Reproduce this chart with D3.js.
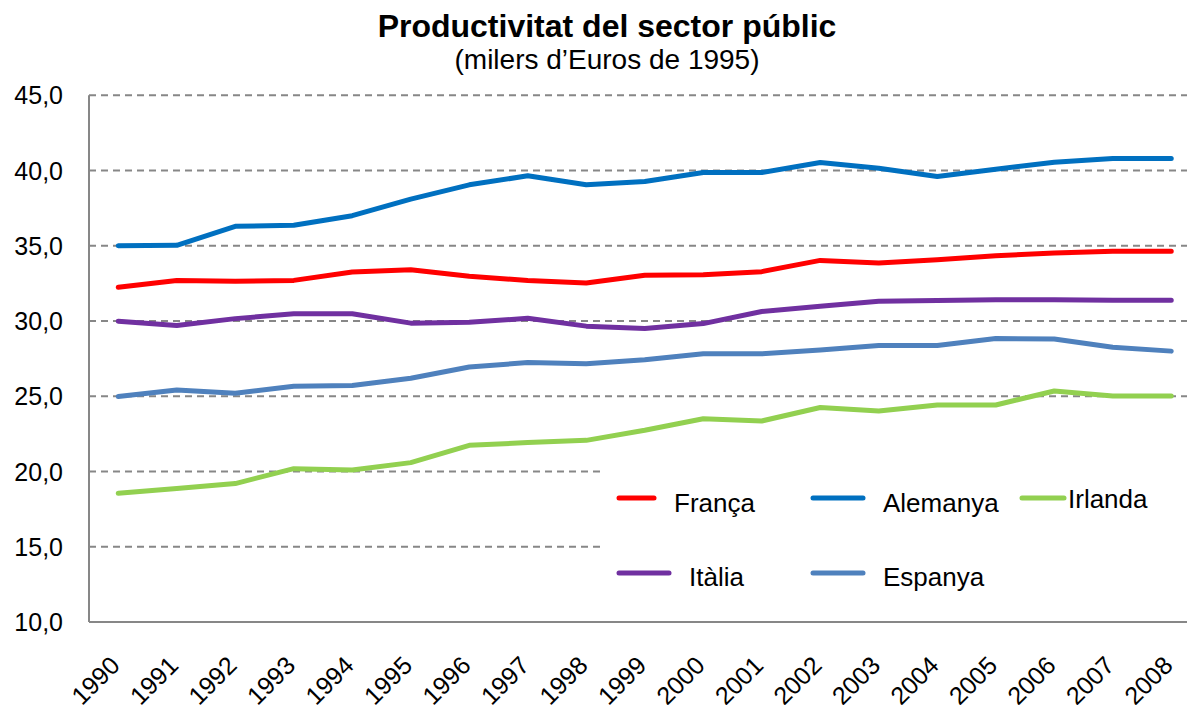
<!DOCTYPE html>
<html>
<head>
<meta charset="utf-8">
<script src="https://cdn.jsdelivr.net/npm/d3@7"></script>
<style>
  html, body { margin: 0; padding: 0; background: #fff; }
  svg { display: block; font-family: "Liberation Sans", Arial, sans-serif; }
</style>
</head>
<body>
<svg id="chart" width="1187" height="705"></svg>
<script>
const years = ["1990","1991","1992","1993","1994","1995","1996","1997","1998","1999","2000","2001","2002","2003","2004","2005","2006","2007","2008"];
const franca   = [32.24,32.70,32.64,32.70,33.26,33.41,32.97,32.70,32.53,33.04,33.08,33.28,34.03,33.85,34.07,34.34,34.52,34.63,34.63];
const alemanya = [35.00,35.03,36.29,36.37,37.00,38.10,39.05,39.65,39.05,39.27,39.87,39.87,40.53,40.15,39.60,40.09,40.55,40.80,40.80];
const irlanda  = [18.56,18.87,19.20,20.19,20.10,20.59,21.74,21.92,22.07,22.74,23.51,23.36,24.25,24.02,24.42,24.42,25.35,25.02,25.02];
const italia   = [29.99,29.70,30.16,30.48,30.48,29.86,29.92,30.18,29.66,29.50,29.83,30.63,30.98,31.31,31.36,31.42,31.42,31.38,31.38];
const espanya  = [24.99,25.42,25.20,25.66,25.72,26.20,26.94,27.24,27.16,27.42,27.82,27.82,28.08,28.37,28.37,28.84,28.80,28.26,28.00];
const yTicks   = [10,15,20,25,30,35,40,45];
const seriesNames  = ["França","Alemanya","Irlanda","Itàlia","Espanya"];
const seriesValues = [franca, alemanya, irlanda, italia, espanya];
const seriesColors = ["#FF0000","#0070C0","#92D050","#7030A0","#4F81BD"];
const titleText = "Productivitat del sector públic";
const subtitleText = "(milers d\u2019Euros de 1995)";

(function () {
const W = 1187, H = 705;
const plotLeft = 89, plotBottom = 622, plotTop = 95.3;
const step = 58.5;
const svg = d3.select("#chart");

const x = d3.scaleBand().domain(years).range([plotLeft, plotLeft + step * years.length]);
const xc = d => x(d) + x.bandwidth() / 2;
const y = d3.scaleLinear().domain([10, 45]).range([plotBottom, plotTop]);

// gridlines
svg.append("g").selectAll("line").data(yTicks.filter(t => t > 10)).join("line")
  .attr("x1", plotLeft).attr("x2", W)
  .attr("y1", d => y(d)).attr("y2", d => y(d))
  .attr("stroke", "#878787").attr("stroke-width", 2)
  .attr("stroke-dasharray", "7,5");

// axes lines
svg.append("line").attr("x1", plotLeft).attr("x2", plotLeft).attr("y1", y(45)).attr("y2", plotBottom)
  .attr("stroke", "#878787").attr("stroke-width", 2);
svg.append("line").attr("x1", plotLeft).attr("x2", W).attr("y1", plotBottom).attr("y2", plotBottom)
  .attr("stroke", "#878787").attr("stroke-width", 2);

// y tick labels
const fmt = v => d3.format(".1f")(v).replace(".", ",");
svg.append("g").selectAll("text").data(yTicks).join("text")
  .attr("x", 63).attr("y", d => y(d)).attr("dy", "0.36em")
  .attr("text-anchor", "end").attr("font-size", 25).attr("fill", "#000")
  .text(fmt);

// x tick labels
svg.append("g").selectAll("text").data(years).join("text")
  .attr("transform", d => `translate(${xc(d) + 3},${plotBottom + 45}) rotate(-45)`)
  .attr("text-anchor", "end").attr("font-size", 25).attr("fill", "#000")
  .text(d => d);

// lines
const line = d3.line().x((d, i) => xc(years[i])).y(d => y(d));
svg.append("g").selectAll("path").data(seriesValues).join("path")
  .attr("d", d => line(d))
  .attr("fill", "none")
  .attr("stroke", (d, i) => seriesColors[i])
  .attr("stroke-width", 5)
  .attr("stroke-linejoin", "round").attr("stroke-linecap", "round");

// legend
svg.append("rect").attr("x", 605).attr("y", 458).attr("width", W - 605).attr("height", 150).attr("fill", "#fff");
const legendPos = [
  {x1: 619, x2: 654, ly: 498, tx: 674, ty: 512},
  {x1: 813, x2: 863, ly: 498, tx: 883, ty: 512},
  {x1: 1022, x2: 1064, ly: 498, tx: 1068, ty: 508},
  {x1: 619, x2: 669, ly: 573, tx: 689, ty: 586},
  {x1: 813, x2: 863, ly: 573, tx: 883, ty: 586}
];
const lg = svg.append("g");
seriesNames.forEach((n, i) => {
  const p = legendPos[i];
  lg.append("line").attr("x1", p.x1).attr("x2", p.x2).attr("y1", p.ly).attr("y2", p.ly)
    .attr("stroke", seriesColors[i]).attr("stroke-width", 5).attr("stroke-linecap", "round");
  lg.append("text").attr("x", p.tx).attr("y", p.ty).attr("font-size", 26).attr("fill", "#000").text(n);
});

// titles
svg.append("text").attr("x", 607).attr("y", 37).attr("text-anchor", "middle")
  .attr("font-size", 32).attr("font-weight", "bold").attr("fill", "#000").text(titleText);
svg.append("text").attr("x", 607).attr("y", 69).attr("text-anchor", "middle")
  .attr("font-size", 28).attr("fill", "#000").text(subtitleText);
})();
</script>
</body>
</html>
